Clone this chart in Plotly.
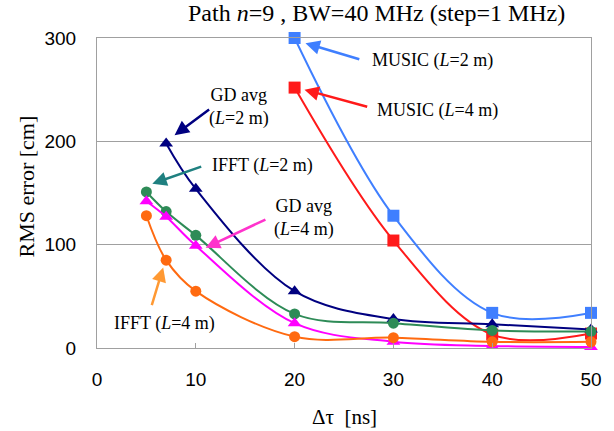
import plotly.graph_objects as go

# ---- data ----
x_music = [20, 30, 40, 50]
music_l2 = [300, 128, 34, 34]
music_l4 = [252, 104, 13, 14]
x_gd2 = [7, 10, 20, 30, 40, 50]
gd_l2 = [198, 154, 55, 28, 23, 18]
x_full = [5, 7, 10, 20, 30, 40, 50]
ifft_l2 = [151, 132, 109, 33, 24, 17, 16]
gd_l4 = [142, 127, 99, 24, 6, 2, 1]
ifft_l4 = [128, 85, 55, 11, 10, 6, 6]

x_ticks = [0, 10, 20, 30, 40, 50]
y_ticks = [0, 100, 200, 300]

SERIF = "Liberation Serif, Times New Roman, serif"
SANS = "Liberation Sans, Arial, sans-serif"

series = [
    (x_music, music_l2, "MUSIC (L=2 m)", "#3F7FFF", "square"),
    (x_music, music_l4, "MUSIC (L=4 m)", "#FF1A1A", "square"),
    (x_gd2, gd_l2, "GD avg (L=2 m)", "#000080", "triangle-up"),
    (x_full, ifft_l2, "IFFT (L=2 m)", "#2E8B57", "circle"),
    (x_full, gd_l4, "GD avg (L=4 m)", "#FF00FF", "triangle-up"),
    (x_full, ifft_l4, "IFFT (L=4 m)", "#FF6A10", "circle"),
]

fig = go.Figure()
for xs, ys, name, col, sym in series:
    fig.add_trace(go.Scatter(
        x=xs, y=ys, name=name, mode="lines+markers",
        line=dict(color=col, width=2, shape="spline", smoothing=1),
        marker=dict(color=col, symbol=sym, size=12 if sym != "circle" else 11),
        cliponaxis=False, showlegend=False))

# annotation labels: (text, x, y, arrow head x, y, arrow tail x, y, color)
labels = [
    ("MUSIC (<i>L</i>=2 m)", 34.0, 278, 21.1, 295, 26.7, 279, "#3F7FFF"),
    ("MUSIC (<i>L</i>=4 m)", 34.5, 230, 21.0, 250, 27.5, 233, "#FF1A1A"),
    ("GD avg<br>(<i>L</i>=2 m)", 14.4, 233, 7.85, 206, 11.5, 232, "#000080"),
    ("IFFT (<i>L</i>=2 m)", 16.8, 177, 5.6, 159, 10.7, 176, "#1F8080"),
    ("GD avg<br>(<i>L</i>=4 m)", 21.0, 126, 11.0, 97, 17.2, 125, "#FF33CC"),
    ("IFFT (<i>L</i>=4 m)", 6.8, 24, 6.7, 78, 5.5, 40, "#FF9933"),
]
for txt, tx, ty, hx, hy, ax_, ay_, col in labels:
    fig.add_annotation(x=tx, y=ty, text=txt, showarrow=False,
                       xanchor="center", yanchor="middle",
                       font=dict(family=SERIF, size=18, color="black"),
                       align="center")
    fig.add_annotation(x=hx, y=hy, ax=ax_, ay=ay_, axref="x", ayref="y",
                       text="", showarrow=True, arrowhead=2, arrowsize=1.15,
                       arrowwidth=2.5, arrowcolor=col, standoff=0)

fig.add_annotation(xref="paper", yref="paper", x=0.565, y=1.0, yshift=25,
                   xanchor="center", yanchor="middle",
                   text="Path <i>n</i>=9 , BW=40 MHz (step=1 MHz)",
                   showarrow=False, font=dict(family=SERIF, size=24, color="black"))
fig.add_annotation(xref="paper", yref="paper", x=0.5, y=0, yshift=-69,
                   xanchor="center", yanchor="middle",
                   text="Δτ&nbsp;&nbsp;[ns]", showarrow=False,
                   font=dict(family=SERIF, size=21, color="black"))
fig.add_annotation(xref="paper", yref="paper", x=0, y=0.521, xshift=-71,
                   xanchor="center", yanchor="middle",
                   text="RMS error [cm]", textangle=-90, showarrow=False,
                   font=dict(family=SERIF, size=22, color="black"))

fig.update_layout(
    width=614, height=431,
    margin=dict(l=97, r=20, t=38, b=83),
    paper_bgcolor="white", plot_bgcolor="white",
    xaxis=dict(range=[0, 50], tickvals=x_ticks, showgrid=False, zeroline=False,
               showline=True, linecolor="#A0A0A0", linewidth=1, mirror=True,
               ticks="inside", ticklen=5, tickcolor="#A0A0A0",
               ticklabelstandoff=14,
               tickfont=dict(family=SANS, size=19, color="black")),
    yaxis=dict(range=[0, 300], tickvals=y_ticks, showgrid=True, gridcolor="#A0A0A0",
               zeroline=False, showline=True, linecolor="#A0A0A0", linewidth=1,
               mirror=True, ticks="", ticklabelstandoff=16,
               tickfont=dict(family=SANS, size=19, color="black")),
)

fig.write_html("out.html")
